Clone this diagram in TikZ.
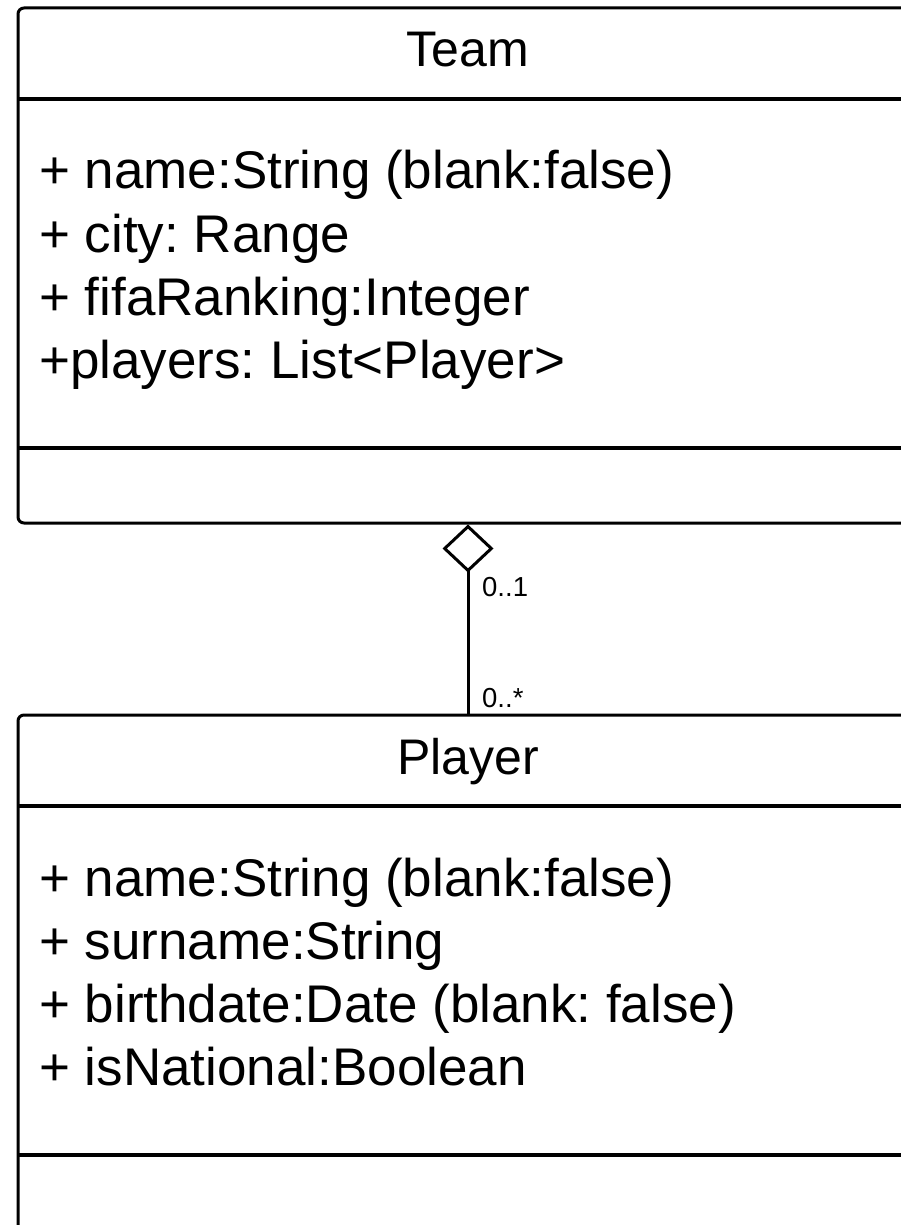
\documentclass[tikz,border=0pt]{standalone}
\usepackage{fontspec}
\setmainfont{Liberation Sans}
\usetikzlibrary{arrows.meta}
\begin{document}
\frenchspacing
\begin{tikzpicture}[x=1pt,y=-1pt,
  classbox/.style={draw=black, line width=3pt, rounded corners=6pt, minimum width=900pt, minimum height=515pt, inner sep=0pt, fill=white},
  sepline/.style={draw=black, line width=3.5pt},
  titletext/.style={anchor=base, inner sep=0pt, font=\fontsize{50}{60}\selectfont},
  attrtext/.style={anchor=base west, inner sep=0pt, font=\fontsize{53}{63}\selectfont},
  multtext/.style={anchor=base west, inner sep=0pt, font=\fontsize{27.5}{32}\selectfont},
  aggr/.style={line width=3pt, -{Diamond[open, length=48pt, width=51pt]}}
]
\useasboundingbox (0,0) rectangle (900,1225);
\fill[white] (0,0) rectangle (900,1225);

% Team class
\node[classbox] (team) at (468,265.5) {};
\coordinate (tsep1L) at (18,99);
\coordinate (tsep1R) at (918,99);
\coordinate (tsep2L) at (18,448);
\coordinate (tsep2R) at (918,448);
\draw[sepline] (tsep1L) -- (tsep1R);
\draw[sepline] (tsep2L) -- (tsep2R);
\node[titletext] (teamtitle) at (468,67) {Team};
\node[attrtext] (ta1) at (39,189) {+ name:String (blank:false)};
\node[attrtext] (ta2) at (39,252) {+ city: Range};
\node[attrtext] (ta3) at (39,315) {+ fifaRanking:Integer};
\node[attrtext] (ta4) at (39,378) {+players: List<Player>};

% Player class
\node[classbox] (player) at (468,972.5) {};
\coordinate (psep1L) at (18,806);
\coordinate (psep1R) at (918,806);
\coordinate (psep2L) at (18,1155);
\coordinate (psep2R) at (918,1155);
\draw[sepline] (psep1L) -- (psep1R);
\draw[sepline] (psep2L) -- (psep2R);
\node[titletext] (playertitle) at (468,774) {Player};
\node[attrtext] (pa1) at (39,896) {+ name:String (blank:false)};
\node[attrtext] (pa2) at (39,959) {+ surname:String};
\node[attrtext] (pa3) at (39,1022) {+ birthdate:Date (blank: false)};
\node[attrtext] (pa4) at (39,1085) {+ isNational:Boolean};

% Aggregation
\draw[aggr] (player.north) -- (team.south);
\node[multtext] (m1) at (482,596) {0..1};
\node[multtext] (m2) at (482,707) {0..*};
\end{tikzpicture}
\end{document}
